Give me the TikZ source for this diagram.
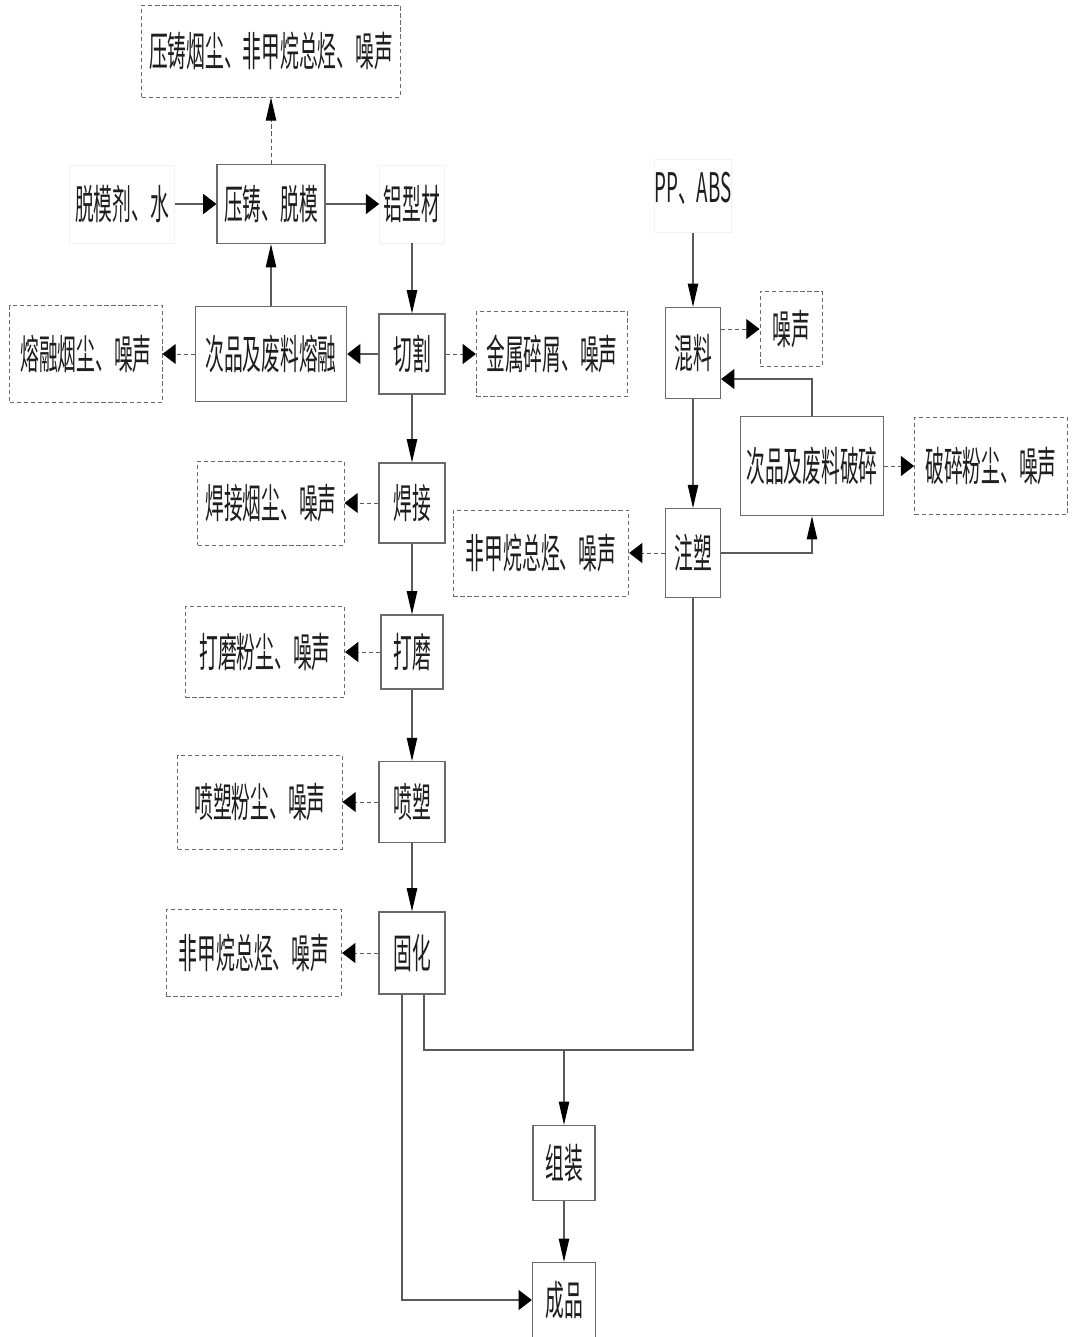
\documentclass[tikz,border=0pt]{standalone}
\usepackage{fontspec}
\setmainfont{Noto Sans CJK SC}[FakeStretch=0.46]
\usepackage{tikz}
\usetikzlibrary{arrows.meta,positioning}
\definecolor{Ink}{HTML}{1E1E1E}
\definecolor{Frame}{HTML}{6A6A6A}
\definecolor{Wire}{HTML}{5A5A5A}
\definecolor{Faint}{HTML}{F2F2F2}

\begin{document}
\begin{tikzpicture}[
  x=0.025cm,y=-0.025cm,
  every node/.style={font=\fontsize{29pt}{32pt}\selectfont,text=Ink,inner sep=0pt},
  proc/.style={draw=Frame,line width=0.8pt,align=center},
  emis/.style={draw=Frame,dashed,dash pattern=on 3pt off 2pt,line width=0.7pt,align=center},
  feed/.style={draw=Faint,line width=0.6pt},
  link/.style={draw=Wire,line width=0.8pt},
  flow/.style={link,-{Triangle[length=0.33cm,width=0.5cm,color=black]}},
  down/.style={link,-{Triangle[length=0.58cm,width=0.26cm,color=black]}},
  drop/.style={draw=Wire,line width=0.7pt,dash pattern=on 3pt off 2pt,
    -{Triangle[length=0.33cm,width=0.5cm,color=black]}},
  dropup/.style={draw=Wire,line width=0.7pt,dash pattern=on 3pt off 2pt,
    -{Triangle[length=0.58cm,width=0.26cm,color=black]}}
]
\useasboundingbox (0,0) rectangle (1073,1337);

% Die casting line.
\node[emis,minimum width=6.45cm,minimum height=2.3cm] (yzfume) at (271,51) {压铸烟尘、非甲烷总烃、噪声};
\node[feed,minimum width=2.62cm,minimum height=1.95cm] (tuomo) at (122,204) {脱模剂、水};
\node[proc,minimum width=2.7cm,minimum height=1.98cm] (yazhu) at (271,204) {压铸、脱模};
\node[feed,minimum width=1.62cm,minimum height=1.95cm] (lvxing) at (412,204) {铝型材};
\node[proc,minimum width=3.78cm,minimum height=2.38cm] (ronghua) at (271,354) {次品及废料熔融};
\node[emis,minimum width=3.8cm,minimum height=2.42cm] (rhfume) at (86,354) {熔融烟尘、噪声};
\node[proc,minimum width=1.65cm,minimum height=2.0cm] (qiege) at (412,354) {切割};
\node[emis,minimum width=3.78cm,minimum height=2.12cm] (suixie) at (552,354) {金属碎屑、噪声};

% Metal parts.
\node[proc,minimum width=1.65cm,minimum height=2.0cm] (hanjie) at (412,503) {焊接};
\node[emis,minimum width=3.65cm,minimum height=2.1cm] (hjfume) at (271,503) {焊接烟尘、噪声};
\node[proc,minimum width=1.55cm,minimum height=1.85cm] (damo) at (412,652) {打磨};
\node[emis,minimum width=3.98cm,minimum height=2.28cm] (dmdust) at (265,652) {打磨粉尘、噪声};
\node[proc,minimum width=1.65cm,minimum height=2.02cm] (pensu) at (412,802) {喷塑};
\node[emis,minimum width=4.1cm,minimum height=2.35cm] (psdust) at (260,802) {喷塑粉尘、噪声};
\node[proc,minimum width=1.65cm,minimum height=2.05cm] (guhua) at (412,953) {固化};
\node[emis,minimum width=4.38cm,minimum height=2.18cm] (ghvoc) at (254,953) {非甲烷总烃、噪声};

% Plastic parts.
\node[feed,minimum width=1.82cm,minimum height=1.82cm,text depth=0.42cm] (ppabs) at (693,196) {PP、ABS};
\node[proc,minimum width=1.38cm,minimum height=2.28cm] (hunliao) at (693,353) {混料};
\node[emis,minimum width=1.55cm,minimum height=1.88cm] (noise) at (791,329) {噪声};
\node[proc,minimum width=3.58cm,minimum height=2.48cm] (posui) at (812,466) {次品及废料破碎};
\node[emis,minimum width=3.82cm,minimum height=2.42cm] (pcdust) at (991,466) {破碎粉尘、噪声};
\node[proc,minimum width=1.38cm,minimum height=2.22cm] (zhusu) at (693,553) {注塑};
\node[emis,minimum width=4.38cm,minimum height=2.15cm] (zsvoc) at (541,553) {非甲烷总烃、噪声};

% Assembly.
\node[proc,minimum width=1.55cm,minimum height=1.88cm] (zuzhuang) at (564,1163) {组装};
\node[proc,minimum width=1.58cm,minimum height=1.88cm] (chengpin) at (564,1300) {成品};
\coordinate (join) at (564,1050);

\draw[flow] (tuomo) -- (yazhu);
\draw[flow] (yazhu) -- (lvxing);
\draw[dropup] (yazhu) -- (yzfume);
\draw[down] (ronghua) -- (yazhu);
\draw[down] (lvxing) -- (qiege);
\draw[flow] (qiege) -- (ronghua);
\draw[drop] (ronghua) -- (rhfume);
\draw[drop] (qiege) -- (suixie);
\draw[down] (qiege) -- (hanjie);
\draw[drop] (hanjie) -- (hjfume);
\draw[down] (hanjie) -- (damo);
\draw[drop] (damo) -- (dmdust);
\draw[down] (damo) -- (pensu);
\draw[drop] (pensu) -- (psdust);
\draw[down] (pensu) -- (guhua);
\draw[drop] (guhua) -- (ghvoc);

\draw[down] (ppabs) -- (hunliao);
\draw[drop] (hunliao.east |- noise) -- (noise);
\draw[flow] (posui.north) |- ([yshift=-0.65cm]hunliao.east);
\draw[drop] (posui) -- (pcdust);
\draw[down] (hunliao) -- (zhusu);
\draw[down] (zhusu.east) -| (posui.south);
\draw[drop] (zhusu) -- (zsvoc);

\draw[link] ([xshift=0.3cm]guhua.south) |- (join) -| (zhusu.south);
\draw[down] (join) -- (zuzhuang);
\draw[down] (zuzhuang) -- (chengpin);
\draw[flow] ([xshift=-0.25cm]guhua.south) |- (chengpin.west);
\end{tikzpicture}
\end{document}
